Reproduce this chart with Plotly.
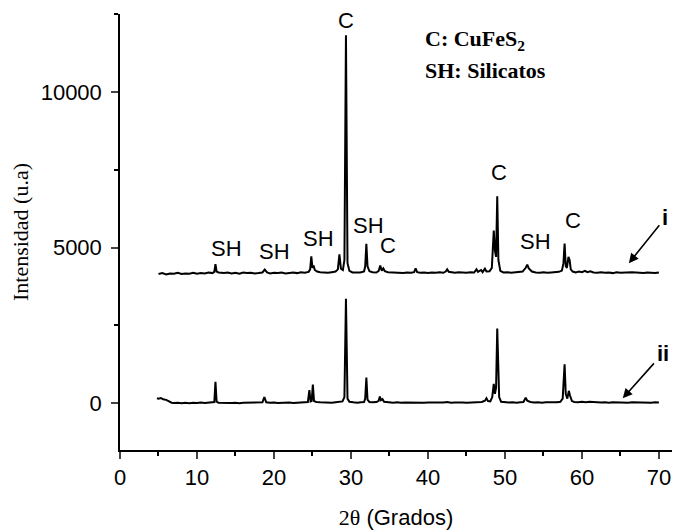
import plotly.graph_objects as go

# ---- data ----
two_theta_i = [5.0, 5.5, 6.0, 6.5, 7.0, 7.5, 8.0, 8.5, 9.0, 9.5, 10.0, 10.5, 11.0, 11.5, 12.0, 12.25, 12.4, 12.55, 12.8,
               13.5, 14.0, 14.5, 15.0, 15.5, 16.0, 16.5, 17.0, 17.5, 18.0, 18.5, 18.8, 19.1, 19.5, 20.0, 20.5, 21.0,
               21.5, 22.0, 22.5, 23.0, 23.5, 24.0, 24.5, 24.7, 24.85, 25.0, 25.15, 25.3, 25.6, 26.0, 26.5, 27.0, 27.5,
               28.0, 28.3, 28.5, 28.7, 28.95, 29.15, 29.35, 29.55, 29.8, 30.2, 30.7, 31.2, 31.7, 31.85, 32.0, 32.15,
               32.4, 32.8, 33.3, 33.6, 33.8, 34.0, 34.2, 34.4, 34.8, 35.3, 35.8, 36.3, 36.8, 37.3, 37.8, 38.2, 38.4,
               38.6, 39.0, 39.5, 40.0, 40.5, 41.0, 41.5, 42.0, 42.3, 42.5, 42.7, 43.0, 43.5, 44.0, 44.5, 45.0, 45.5,
               46.0, 46.3, 46.5, 46.9, 47.1, 47.4, 47.6, 48.0, 48.3, 48.55, 48.7, 48.85, 49.0, 49.15, 49.4, 49.8,
               50.3, 50.8, 51.3, 51.8, 52.3, 52.7, 52.9, 53.1, 53.5, 54.0, 54.5, 55.0, 55.5, 56.0, 56.5, 57.0, 57.4,
               57.6, 57.75, 57.9, 58.05, 58.25, 58.4, 58.55, 58.8, 59.2, 59.6, 60.0, 60.4, 60.7, 61.1, 61.5, 62.0,
               62.5, 63.0, 63.5, 64.0, 64.5, 65.0, 65.5, 66.0, 66.5, 67.0, 67.5, 68.0, 68.5, 69.0, 69.5, 70.0]
intensity_i = [4150, 4180, 4140, 4170, 4160, 4190, 4150, 4170, 4160, 4190, 4160, 4180, 4170, 4200, 4180, 4220, 4470, 4230, 4200,
               4180, 4200, 4170, 4190, 4160, 4200, 4180, 4190, 4170, 4180, 4200, 4290, 4200, 4170, 4190, 4180, 4200,
               4170, 4190, 4200, 4180, 4210, 4190, 4220, 4300, 4720, 4350, 4420, 4280, 4230, 4210, 4200, 4190, 4210,
               4230, 4300, 4780, 4320, 4280, 4600, 11820, 4500, 4250, 4200, 4190, 4200, 4230, 4400, 5120, 4400,
               4240, 4210, 4200, 4250, 4420, 4260, 4330, 4240, 4210, 4200, 4190, 4200, 4180, 4200, 4190, 4210, 4330,
               4210, 4190, 4200, 4180, 4200, 4190, 4210, 4190, 4230, 4300, 4220, 4200, 4190, 4210, 4200, 4190, 4210,
               4200, 4300, 4220, 4280, 4210, 4320, 4230, 4240, 4350, 5550, 4900, 4700, 6650, 4600, 4250, 4200,
               4210, 4190, 4200, 4210, 4230, 4350, 4450, 4330, 4230, 4200, 4190, 4210, 4190, 4200, 4210, 4220, 4260,
               4500, 5130, 4400, 4350, 4700, 4600, 4300, 4230, 4200, 4230, 4210, 4250, 4210, 4240, 4200, 4190,
               4210, 4190, 4200, 4180, 4210, 4190, 4200, 4190, 4210, 4200, 4190, 4180, 4200, 4190, 4180, 4200]

two_theta_ii = [4.8, 5.0, 5.3, 5.6, 6.0, 6.3, 6.7, 7.0, 7.5, 8.0, 8.5, 9.0, 9.5, 10.0, 10.5, 11.0, 11.5, 12.0, 12.25, 12.4,
                12.55, 12.8, 13.5, 14.0, 14.5, 15.0, 15.5, 16.0, 16.5, 17.0, 17.5, 18.0, 18.5, 18.75, 19.0, 19.5, 20.0,
                20.5, 21.0, 21.5, 22.0, 22.5, 23.0, 23.5, 24.0, 24.4, 24.6, 24.75, 24.9, 25.05, 25.2, 25.5, 26.0, 26.5,
                27.0, 27.5, 28.0, 28.5, 28.9, 29.15, 29.35, 29.55, 29.8, 30.3, 30.8, 31.3, 31.7, 31.85, 32.0, 32.15,
                32.4, 32.8, 33.3, 33.6, 33.75, 33.9, 34.1, 34.3, 34.8, 35.5, 36.0, 36.5, 37.0, 37.5, 38.0, 38.5, 39.0,
                39.5, 40.0, 40.5, 41.0, 41.5, 42.0, 42.5, 43.0, 43.5, 44.0, 44.5, 45.0, 45.5, 46.0, 46.5, 47.0, 47.4,
                47.6, 47.8, 48.1, 48.35, 48.55, 48.7, 48.85, 49.0, 49.1, 49.25, 49.5, 50.0, 50.5, 51.0, 51.5, 52.0,
                52.4, 52.7, 52.9, 53.3, 53.8, 54.3, 54.8, 55.3, 55.8, 56.3, 56.8, 57.2, 57.5, 57.75, 57.9, 58.1, 58.3,
                58.45, 58.7, 59.0, 59.5, 60.0, 60.5, 61.0, 61.5, 62.0, 62.5, 63.0, 63.5, 64.0, 64.5, 65.0, 65.5, 66.0,
                66.5, 67.0, 67.5, 68.0, 68.5, 69.0, 69.5, 70.0]
intensity_ii = [160, 150, 170, 130, 110, 60, 20, 10, 20, 0, 15, 5, 20, 10, 25, 10, 20, 15, 40, 690,
                50, 20, 10, 25, 10, 20, 5, 15, 20, 10, 25, 15, 30, 200, 30, 15, 25,
                10, 20, 15, 25, 10, 20, 15, 30, 40, 420, 60, 80, 600, 70, 40, 30, 20,
                25, 15, 30, 40, 60, 200, 3360, 150, 50, 30, 20, 35, 40, 150, 830, 120,
                40, 30, 40, 80, 220, 100, 130, 50, 30, 20, 30, 15, 25, 20, 30, 20, 25,
                15, 25, 20, 30, 15, 25, 40, 20, 25, 15, 25, 20, 30, 25, 30, 40, 80,
                160, 70, 60, 200, 620, 300, 500, 2400, 1100, 200, 50, 30, 25, 35, 20, 30,
                40, 180, 80, 40, 25, 35, 20, 30, 25, 30, 35, 50, 150, 1250, 300, 150, 400,
                250, 70, 40, 30, 45, 30, 50, 35, 30, 25, 35, 20, 30, 25, 40, 30, 20,
                30, 25, 20, 30, 25, 20, 30, 25]

x_tick_values = [0, 10, 20, 30, 40, 50, 60, 70]
x_tick_labels = ["0", "10", "20", "30", "40", "50", "60", "70"]
y_tick_values = [0, 5000, 10000]
y_tick_labels = ["0", "5000", "10000"]

peak_labels = ["C", "SH", "SH", "SH", "SH", "C", "C", "SH", "C"]
peak_label_x = [29.4, 13.8, 20.1, 25.8, 32.3, 34.8, 49.2, 54.0, 58.9]
peak_label_y = [12300, 4980, 4890, 5300, 5720, 5080, 7400, 5180, 5880]

SANS = "Liberation Sans, Arial, sans-serif"
SERIF = "Liberation Serif, Times New Roman, serif"

fig = go.Figure()
for xs, ys, nm in [(two_theta_i, intensity_i, "i"), (two_theta_ii, intensity_ii, "ii")]:
    fig.add_trace(go.Scatter(x=xs, y=ys, mode="lines", name=nm,
                             line=dict(color="black", width=2), showlegend=False))

annotations = []
for t, px, py in zip(peak_labels, peak_label_x, peak_label_y):
    annotations.append(dict(x=px, y=py, xref="x", yref="y", text=t, showarrow=False,
                            font=dict(family=SANS, size=22, color="black")))

# series markers with arrows (label sits at the arrow tail)
annotations.append(dict(x=66.1, y=4500, ax=70.8, ay=5950, xref="x", yref="y", axref="x", ayref="y",
                        text="<b>i</b>", showarrow=True, arrowhead=2, arrowsize=1.2, arrowwidth=1.6,
                        arrowcolor="black", standoff=0, startstandoff=2,
                        font=dict(family=SANS, size=22, color="black")))
annotations.append(dict(x=65.3, y=160, ax=70.5, ay=1600, xref="x", yref="y", axref="x", ayref="y",
                        text="<b>ii</b>", showarrow=True, arrowhead=2, arrowsize=1.2, arrowwidth=1.6,
                        arrowcolor="black", standoff=0, startstandoff=2,
                        font=dict(family=SANS, size=22, color="black")))

# legend-like text
annotations.append(dict(x=39.3, y=11650, xref="x", yref="y", xanchor="left", showarrow=False,
                        text="<b>C: CuFeS<sub>2</sub></b>", font=dict(family=SERIF, size=22, color="black")))
annotations.append(dict(x=39.3, y=10700, xref="x", yref="y", xanchor="left", showarrow=False,
                        text="<b>SH: Silicatos</b>", font=dict(family=SERIF, size=22, color="black")))

# page body has an 8px margin, so the figure is sized/offset to land the plot area where the reference has it
fig.update_layout(
    width=683, height=523,
    margin=dict(l=112, r=19, t=6, b=81),
    paper_bgcolor="white", plot_bgcolor="white",
    annotations=annotations,
    xaxis=dict(range=[0, 71.7], tickvals=x_tick_values, ticktext=x_tick_labels, ticks="outside",
               ticklen=7, tickwidth=1.5, automargin=False,
               showline=True, linecolor="black", linewidth=1.5, showgrid=False, zeroline=False,
               minor=dict(dtick=5, tick0=0, ticks="outside", ticklen=4, tickwidth=1.5, tickcolor="black"),
               tickfont=dict(family=SANS, size=22, color="black"),
               title=dict(text="<span style='font-family:Liberation Serif'>2θ</span> (Grados)",
                          font=dict(family=SANS, size=22, color="black"), standoff=20)),
    yaxis=dict(range=[-1500, 12500], tickvals=y_tick_values, ticktext=y_tick_labels, ticks="outside",
               ticklen=7, tickwidth=1.5, automargin=False, ticklabelstandoff=5,
               showline=True, linecolor="black", linewidth=1.5, showgrid=False, zeroline=False,
               minor=dict(dtick=2500, tick0=0, ticks="outside", ticklen=4, tickwidth=1.5, tickcolor="black"),
               tickfont=dict(family=SANS, size=22, color="black"),
               title=dict(text="Intensidad (u.a)", font=dict(family=SERIF, size=22, color="black"), standoff=7)),
)

fig.write_html("out.html")
